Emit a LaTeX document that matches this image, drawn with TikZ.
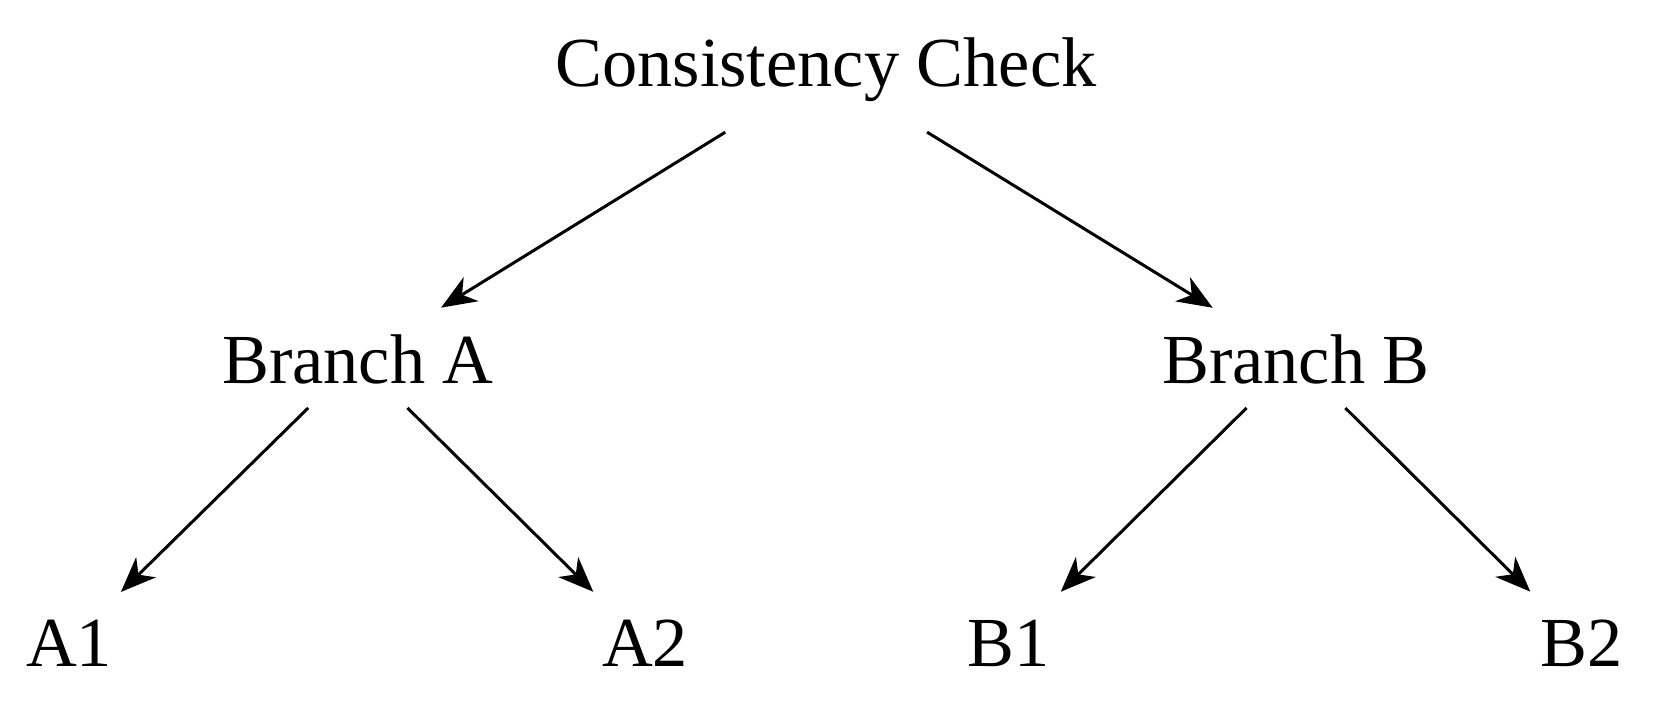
\documentclass[tikz,border=0pt]{standalone}
\usepackage{fontspec}
\setmainfont{Liberation Serif}
\usepackage{tikz}
\usetikzlibrary{arrows.meta}

\begin{document}
\begin{tikzpicture}[x=0.01cm,y=-0.01cm,
  lbl/.style={font=\fontsize{20}{24}\selectfont, inner sep=0pt},
  edge/.style={-{Stealth[length=10pt,width=8pt,inset=3pt]}, line width=0.85pt}]
\useasboundingbox (0,0) rectangle (1665,710);

\node[lbl] (root) at (826,70) {Consistency Check};
\node[lbl] (brA) at (358,359) {Branch A};
\node[lbl] (brB) at (1296,359) {Branch B};
\node[lbl] (a1) at (69,643) {A1};
\node[lbl] (a2) at (645,643) {A2};
\node[lbl] (b1) at (1009,643) {B1};
\node[lbl] (b2) at (1582,643) {B2};

\draw[edge, shorten <=16pt, shorten >=14pt] (root) -- (brA);
\draw[edge, shorten <=16pt, shorten >=14pt] (root) -- (brB);
\draw[edge, shorten <=9.5pt, shorten >=11pt] (brA) -- (a1);
\draw[edge, shorten <=9.5pt, shorten >=11pt] (brA) -- (a2);
\draw[edge, shorten <=9.5pt, shorten >=11pt] (brB) -- (b1);
\draw[edge, shorten <=9.5pt, shorten >=11pt] (brB) -- (b2);
\end{tikzpicture}
\end{document}
